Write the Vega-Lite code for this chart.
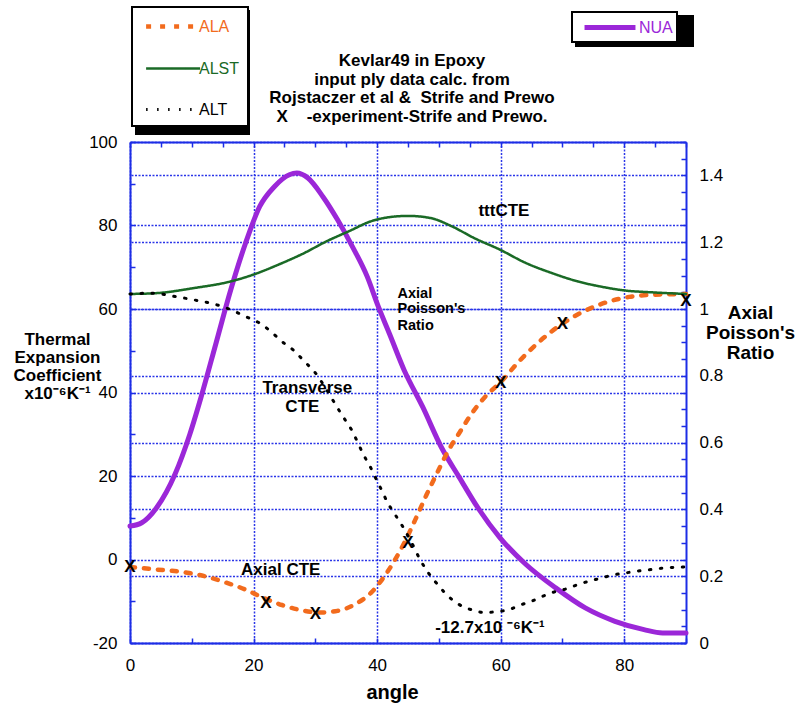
{
  "$schema": "https://vega.github.io/schema/vega-lite/v6.json",
  "width": 556,
  "height": 501,
  "autosize": "none",
  "padding": {"left": 130, "top": 142, "right": 116, "bottom": 63},
  "background": "white",
  "title": {
    "text": ["Kevlar49 in Epoxy", "input ply data calc. from", "Rojstaczer et al &\u00a0 Strife and Prewo", "X\u00a0\u00a0\u00a0 -experiment-Strife and Prewo."],
    "font": "Liberation Sans",
    "fontSize": 17,
    "fontWeight": "bold",
    "lineHeight": 18.5,
    "anchor": "middle",
    "frame": "group",
    "baseline": "alphabetic",
    "offset": 0,
    "dx": 4,
    "dy": 132.5,
    "color": "black"
  },
  "config": {
    "view": {"stroke": null},
    "font": "Liberation Sans",
    "axis": {
      "domainColor": "#1c2de6",
      "domainWidth": 2,
      "tickColor": "#1c2de6",
      "tickWidth": 1.5,
      "tickSize": -5,
      "gridColor": "#2a35e8",
      "gridDash": [2, 1.5],
      "gridWidth": 1.5,
      "labelFont": "Liberation Sans",
      "labelFontSize": 17,
      "labelColor": "black",
      "labelFlush": false,
      "labelOverlap": false,
      "labelPadding": 18,
      "titleFont": "Liberation Sans",
      "titleFontWeight": "bold",
      "titleColor": "black"
    },
    "legend": {
      "orient": "none",
      "direction": "vertical",
      "strokeColor": "black",
      "strokeWidth": 2,
      "fillColor": "white",
      "labelFont": "Liberation Sans",
      "labelFontSize": 16,
      "symbolSize": 324
    }
  },
  "datasets": {
    "nua": [
      {"series": "NUA", "angle": 0, "nu": 0.35},
      {"series": "NUA", "angle": 1.9, "nu": 0.36},
      {"series": "NUA", "angle": 4.3, "nu": 0.405},
      {"series": "NUA", "angle": 7.3, "nu": 0.506},
      {"series": "NUA", "angle": 9.7, "nu": 0.626},
      {"series": "NUA", "angle": 11.5, "nu": 0.736},
      {"series": "NUA", "angle": 13.9, "nu": 0.896},
      {"series": "NUA", "angle": 16.3, "nu": 1.057},
      {"series": "NUA", "angle": 18.7, "nu": 1.197},
      {"series": "NUA", "angle": 21.0, "nu": 1.307},
      {"series": "NUA", "angle": 23.4, "nu": 1.367},
      {"series": "NUA", "angle": 25.8, "nu": 1.402},
      {"series": "NUA", "angle": 27.0, "nu": 1.407},
      {"series": "NUA", "angle": 28.8, "nu": 1.392},
      {"series": "NUA", "angle": 31.2, "nu": 1.337},
      {"series": "NUA", "angle": 33.6, "nu": 1.267},
      {"series": "NUA", "angle": 36.0, "nu": 1.187},
      {"series": "NUA", "angle": 38.4, "nu": 1.097},
      {"series": "NUA", "angle": 40.2, "nu": 1.007},
      {"series": "NUA", "angle": 42.0, "nu": 0.926},
      {"series": "NUA", "angle": 44.4, "nu": 0.816},
      {"series": "NUA", "angle": 47.4, "nu": 0.706},
      {"series": "NUA", "angle": 50.4, "nu": 0.586},
      {"series": "NUA", "angle": 53.3, "nu": 0.496},
      {"series": "NUA", "angle": 56.3, "nu": 0.405},
      {"series": "NUA", "angle": 59.9, "nu": 0.315},
      {"series": "NUA", "angle": 64.1, "nu": 0.235},
      {"series": "NUA", "angle": 68.9, "nu": 0.165},
      {"series": "NUA", "angle": 73.7, "nu": 0.105},
      {"series": "NUA", "angle": 78.5, "nu": 0.065},
      {"series": "NUA", "angle": 83.2, "nu": 0.04},
      {"series": "NUA", "angle": 86.2, "nu": 0.03},
      {"series": "NUA", "angle": 90, "nu": 0.03}
    ],
    "curves": [
      {"series": "ALA", "angle": 0, "value": -1.8},
      {"series": "ALA", "angle": 4.3, "value": -2.4},
      {"series": "ALA", "angle": 8.5, "value": -3.0},
      {"series": "ALA", "angle": 12.1, "value": -4.0},
      {"series": "ALA", "angle": 15.7, "value": -5.6},
      {"series": "ALA", "angle": 18.7, "value": -7.2},
      {"series": "ALA", "angle": 21.6, "value": -9.2},
      {"series": "ALA", "angle": 24.6, "value": -10.9},
      {"series": "ALA", "angle": 27.6, "value": -12.1},
      {"series": "ALA", "angle": 30.6, "value": -12.7},
      {"series": "ALA", "angle": 33.6, "value": -12.3},
      {"series": "ALA", "angle": 36.6, "value": -10.6},
      {"series": "ALA", "angle": 39.0, "value": -8.0},
      {"series": "ALA", "angle": 40.8, "value": -4.8},
      {"series": "ALA", "angle": 42.6, "value": -0.8},
      {"series": "ALA", "angle": 44.4, "value": 4.0},
      {"series": "ALA", "angle": 46.2, "value": 9.6},
      {"series": "ALA", "angle": 48.0, "value": 15.5},
      {"series": "ALA", "angle": 49.8, "value": 21.0},
      {"series": "ALA", "angle": 51.5, "value": 26.0},
      {"series": "ALA", "angle": 53.3, "value": 30.3},
      {"series": "ALA", "angle": 55.1, "value": 34.5},
      {"series": "ALA", "angle": 57.5, "value": 39.0},
      {"series": "ALA", "angle": 60.0, "value": 42.5},
      {"series": "ALA", "angle": 63.0, "value": 47.5},
      {"series": "ALA", "angle": 66.5, "value": 52.5},
      {"series": "ALA", "angle": 70.0, "value": 56.5},
      {"series": "ALA", "angle": 73.7, "value": 59.6},
      {"series": "ALA", "angle": 77.3, "value": 61.7},
      {"series": "ALA", "angle": 80.8, "value": 62.9},
      {"series": "ALA", "angle": 84.4, "value": 63.4},
      {"series": "ALA", "angle": 90, "value": 63.6},
      {"series": "ALST", "angle": 0, "value": 63.6},
      {"series": "ALST", "angle": 4.3, "value": 63.8},
      {"series": "ALST", "angle": 10.3, "value": 65.0},
      {"series": "ALST", "angle": 16.3, "value": 66.6},
      {"series": "ALST", "angle": 19.9, "value": 68.2},
      {"series": "ALST", "angle": 24.0, "value": 70.6},
      {"series": "ALST", "angle": 28.2, "value": 73.4},
      {"series": "ALST", "angle": 31.8, "value": 76.2},
      {"series": "ALST", "angle": 35.4, "value": 78.6},
      {"series": "ALST", "angle": 39.0, "value": 81.0},
      {"series": "ALST", "angle": 42.0, "value": 82.0},
      {"series": "ALST", "angle": 45.0, "value": 82.3},
      {"series": "ALST", "angle": 48.6, "value": 81.8},
      {"series": "ALST", "angle": 52.1, "value": 79.8},
      {"series": "ALST", "angle": 55.7, "value": 77.0},
      {"series": "ALST", "angle": 59.9, "value": 74.2},
      {"series": "ALST", "angle": 64.1, "value": 71.0},
      {"series": "ALST", "angle": 68.3, "value": 68.6},
      {"series": "ALST", "angle": 72.5, "value": 66.6},
      {"series": "ALST", "angle": 76.1, "value": 65.4},
      {"series": "ALST", "angle": 80.3, "value": 64.4},
      {"series": "ALST", "angle": 84.4, "value": 64.0},
      {"series": "ALST", "angle": 90, "value": 63.6},
      {"series": "ALT", "angle": 0, "value": 63.6},
      {"series": "ALT", "angle": 3.7, "value": 63.8},
      {"series": "ALT", "angle": 7.3, "value": 63.0},
      {"series": "ALT", "angle": 10.3, "value": 62.2},
      {"series": "ALT", "angle": 13.3, "value": 61.3},
      {"series": "ALT", "angle": 15.7, "value": 60.2},
      {"series": "ALT", "angle": 18.7, "value": 58.2},
      {"series": "ALT", "angle": 21.0, "value": 56.6},
      {"series": "ALT", "angle": 22.8, "value": 54.6},
      {"series": "ALT", "angle": 24.6, "value": 52.2},
      {"series": "ALT", "angle": 26.4, "value": 50.2},
      {"series": "ALT", "angle": 28.2, "value": 47.5},
      {"series": "ALT", "angle": 30.0, "value": 44.7},
      {"series": "ALT", "angle": 31.8, "value": 40.7},
      {"series": "ALT", "angle": 33.6, "value": 36.3},
      {"series": "ALT", "angle": 34.8, "value": 33.5},
      {"series": "ALT", "angle": 36.0, "value": 30.7},
      {"series": "ALT", "angle": 36.9, "value": 27.9},
      {"series": "ALT", "angle": 37.8, "value": 25.1},
      {"series": "ALT", "angle": 39.0, "value": 21.9},
      {"series": "ALT", "angle": 39.9, "value": 19.1},
      {"series": "ALT", "angle": 40.8, "value": 16.4},
      {"series": "ALT", "angle": 41.7, "value": 13.6},
      {"series": "ALT", "angle": 42.9, "value": 10.8},
      {"series": "ALT", "angle": 44.1, "value": 8.0},
      {"series": "ALT", "angle": 45.6, "value": 4.0},
      {"series": "ALT", "angle": 47.1, "value": -0.4},
      {"series": "ALT", "angle": 48.3, "value": -3.2},
      {"series": "ALT", "angle": 49.8, "value": -6.0},
      {"series": "ALT", "angle": 51.5, "value": -8.8},
      {"series": "ALT", "angle": 53.3, "value": -10.8},
      {"series": "ALT", "angle": 55.4, "value": -12.1},
      {"series": "ALT", "angle": 57.5, "value": -12.7},
      {"series": "ALT", "angle": 59.3, "value": -12.5},
      {"series": "ALT", "angle": 61.4, "value": -12.0},
      {"series": "ALT", "angle": 63.2, "value": -10.9},
      {"series": "ALT", "angle": 65.0, "value": -10.0},
      {"series": "ALT", "angle": 66.8, "value": -8.8},
      {"series": "ALT", "angle": 68.6, "value": -7.8},
      {"series": "ALT", "angle": 70.7, "value": -7.0},
      {"series": "ALT", "angle": 72.5, "value": -6.0},
      {"series": "ALT", "angle": 74.3, "value": -5.2},
      {"series": "ALT", "angle": 76.4, "value": -4.4},
      {"series": "ALT", "angle": 78.2, "value": -3.7},
      {"series": "ALT", "angle": 80.3, "value": -3.2},
      {"series": "ALT", "angle": 82.0, "value": -2.8},
      {"series": "ALT", "angle": 84.4, "value": -2.4},
      {"series": "ALT", "angle": 86.0, "value": -2.1},
      {"series": "ALT", "angle": 90, "value": -1.8}
    ],
    "exp": [
      {"angle": 0, "value": -1.8},
      {"angle": 22, "value": -10.5},
      {"angle": 30, "value": -13},
      {"angle": 45, "value": 4.0},
      {"angle": 60, "value": 42.3},
      {"angle": 70, "value": 56.5},
      {"angle": 90, "value": 61.8}
    ],
    "notesCenter": [
      {"label": "Axial CTE", "angle": 24.4, "value": -2.5},
      {"label": "Transverse", "angle": 28.7, "value": 41.0},
      {"label": "CTE", "angle": 27.9, "value": 36.6}
    ],
    "notesLeft": [
      {"label": "tttCTE", "angle": 56.4, "value": 83.4},
      {"label": "-12.7x10 ⁻⁶K⁻¹", "angle": 49.4, "value": -16.4}
    ],
    "notesPoisson": [
      {"label": "Axial", "angle": 43.3, "value": 63.7},
      {"label": "Poisson's", "angle": 43.3, "value": 59.9},
      {"label": "Ratio", "angle": 43.3, "value": 56.0}
    ]
  },
  "layer": [
    {
      "data": {"name": "nua"},
      "mark": {"type": "line", "strokeWidth": 5, "interpolate": "monotone", "strokeCap": "round", "strokeJoin": "round"},
      "encoding": {
        "x": {
          "field": "angle", "type": "quantitative",
          "scale": {"domain": [0, 90], "nice": false, "zero": false},
          "axis": {
            "orient": "top",
            "values": [0, 5, 10, 15, 20, 25, 30, 35, 40, 45, 50, 55, 60, 65, 70, 75, 80, 85, 90],
            "labels": false,
            "grid": false,
            "title": null
          }
        },
        "y": {
          "field": "nu", "type": "quantitative",
          "scale": {"domain": [0, 1.5], "nice": false, "zero": false},
          "axis": {
            "orient": "right",
            "values": [0, 0.05, 0.1, 0.15, 0.2, 0.25, 0.3, 0.35, 0.4, 0.45, 0.5, 0.55, 0.6, 0.65, 0.7, 0.75, 0.8, 0.85, 0.9, 0.95, 1, 1.05, 1.1, 1.15, 1.2, 1.25, 1.3, 1.35, 1.4, 1.45, 1.5],
            "labelExpr": "abs(datum.value*5 - round(datum.value*5)) < 0.000001 ? format(datum.value, '~g') : ''",
            "grid": true,
            "gridOpacity": {"condition": {"test": "abs(datum.value*5 - round(datum.value*5)) < 0.000001", "value": 1}, "value": 0},
            "title": ["Axial", "Poisson's", "Ratio"],
            "titleAngle": 0,
            "titleAlign": "center",
            "titleBaseline": "alphabetic",
            "titleX": 64,
            "titleY": 176,
            "titleFontSize": 19,
            "titleLineHeight": 20
          }
        },
        "color": {
          "field": "series", "type": "nominal",
          "scale": {"domain": ["NUA"], "range": ["#9b27d8"]},
          "legend": {
            "title": null,
            "legendX": 442,
            "legendY": -130,
            "zindex": 1,
            "padding": 4,
            "symbolType": "M-0.33,0L5.33,0",
            "symbolStrokeWidth": 5,
            "labelOffset": 40,
            "labelColor": "#9b27d8",
            "labelExpr": "datum.label + '   '"
          }
        },
        "opacity": {
          "field": "series", "type": "nominal",
          "scale": {"range": [1, 1]},
          "legend": {
            "title": null,
            "legendX": 446,
            "legendY": -126,
            "zindex": 0,
            "padding": 4,
            "fillColor": "black",
            "strokeColor": "black",
            "symbolType": "M-0.33,0L5.33,0",
            "symbolStrokeWidth": 5,
            "labelOffset": 86,
            "labelExpr": "''"
          }
        }
      }
    },
    {
      "layer": [
        {
          "data": {"name": "curves"},
          "mark": {"type": "line", "interpolate": "monotone", "strokeCap": "round", "strokeJoin": "round"},
          "encoding": {
            "x": {
              "field": "angle", "type": "quantitative",
              "scale": {"domain": [0, 90], "nice": false, "zero": false},
              "axis": {
                "orient": "bottom",
                "values": [0, 5, 10, 15, 20, 25, 30, 35, 40, 45, 50, 55, 60, 65, 70, 75, 80, 85, 90],
                "labelExpr": "datum.value % 20 === 0 ? datum.label : ''",
                "grid": true,
                "gridOpacity": {"condition": {"test": "datum.value % 20 === 0", "value": 1}, "value": 0},
                "labelPadding": 19,
                "title": "angle",
                "titleFontSize": 20,
                "titleX": 262,
                "titleY": 55,
                "titleAlign": "center",
                "titleBaseline": "alphabetic"
              }
            },
            "y": {
              "field": "value", "type": "quantitative",
              "scale": {"domain": [-20, 100], "nice": false, "zero": false},
              "axis": {
                "orient": "left",
                "values": [-20, -15, -10, -5, 0, 5, 10, 15, 20, 25, 30, 35, 40, 45, 50, 55, 60, 65, 70, 75, 80, 85, 90, 95, 100],
                "labelExpr": "datum.value % 20 === 0 ? replace(datum.label, '−', '-') : ''",
                "grid": true,
                "gridOpacity": {"condition": {"test": "datum.value % 20 === 0", "value": 1}, "value": 0},
                "title": ["Thermal", "Expansion", "Coefficient", "x10⁻⁶K⁻¹"],
                "titleAngle": 0,
                "titleAlign": "center",
                "titleBaseline": "alphabetic",
                "titleX": -73,
                "titleY": 202,
                "titleFontSize": 17,
                "titleLineHeight": 18
              }
            },
            "color": {
              "field": "series", "type": "nominal",
              "scale": {"domain": ["ALA", "ALST", "ALT"], "range": ["#f26b1d", "#1a6a26", "#000000"]},
              "legend": {
                "title": null,
                "legendX": 2,
                "legendY": -135,
                "zindex": 1,
                "padding": 8,
                "rowPadding": 22,
                "symbolType": "M-0.6,0L5.4,0",
                "labelOffset": 36,
                "labelColor": {"expr": "datum.value === 'ALA' ? '#f26b1d' : datum.value === 'ALST' ? '#1a6a26' : '#000000'"},
                "labelExpr": "datum.label + '     '"
              }
            },
            "strokeDash": {
              "field": "series", "type": "nominal",
              "scale": {"domain": ["ALA", "ALST", "ALT"], "range": [[5, 9], [1, 0], [1.5, 9.5]]}
            },
            "strokeWidth": {
              "field": "series", "type": "nominal",
              "scale": {"type": "ordinal", "domain": ["ALA", "ALST", "ALT"], "range": [4.5, 2.5, 3]}
            },
            "opacity": {
              "field": "series", "type": "nominal",
              "scale": {"range": [1, 1]},
              "legend": {
                "title": null,
                "legendX": 6,
                "legendY": -131,
                "zindex": 0,
                "padding": 8,
                "rowPadding": 22,
                "fillColor": "black",
                "strokeColor": "black",
                "symbolType": "M-0.6,0L5.4,0",
                "symbolStrokeWidth": 4.5,
                "labelOffset": 74,
                "labelExpr": "''"
              }
            }
          }
        },
        {
          "data": {"name": "exp"},
          "mark": {"type": "text", "text": "X", "font": "Liberation Sans", "fontSize": 17, "fontWeight": "bold", "align": "center", "baseline": "middle", "color": "black"},
          "encoding": {
            "x": {"field": "angle", "type": "quantitative"},
            "y": {"field": "value", "type": "quantitative"}
          }
        },
        {
          "data": {"name": "notesCenter"},
          "mark": {"type": "text", "font": "Liberation Sans", "fontSize": 17, "fontWeight": "bold", "align": "center", "baseline": "middle", "color": "black"},
          "encoding": {
            "x": {"field": "angle", "type": "quantitative"},
            "y": {"field": "value", "type": "quantitative"},
            "text": {"field": "label"}
          }
        },
        {
          "data": {"name": "notesLeft"},
          "mark": {"type": "text", "font": "Liberation Sans", "fontSize": 17, "fontWeight": "bold", "align": "left", "baseline": "middle", "color": "black"},
          "encoding": {
            "x": {"field": "angle", "type": "quantitative"},
            "y": {"field": "value", "type": "quantitative"},
            "text": {"field": "label"}
          }
        },
        {
          "data": {"name": "notesPoisson"},
          "mark": {"type": "text", "font": "Liberation Sans", "fontSize": 14.5, "fontWeight": "bold", "align": "left", "baseline": "middle", "color": "black"},
          "encoding": {
            "x": {"field": "angle", "type": "quantitative"},
            "y": {"field": "value", "type": "quantitative"},
            "text": {"field": "label"}
          }
        }
      ]
    }
  ],
  "resolve": {"scale": {"y": "independent", "color": "independent", "strokeDash": "independent", "strokeWidth": "independent", "opacity": "independent"}}
}
